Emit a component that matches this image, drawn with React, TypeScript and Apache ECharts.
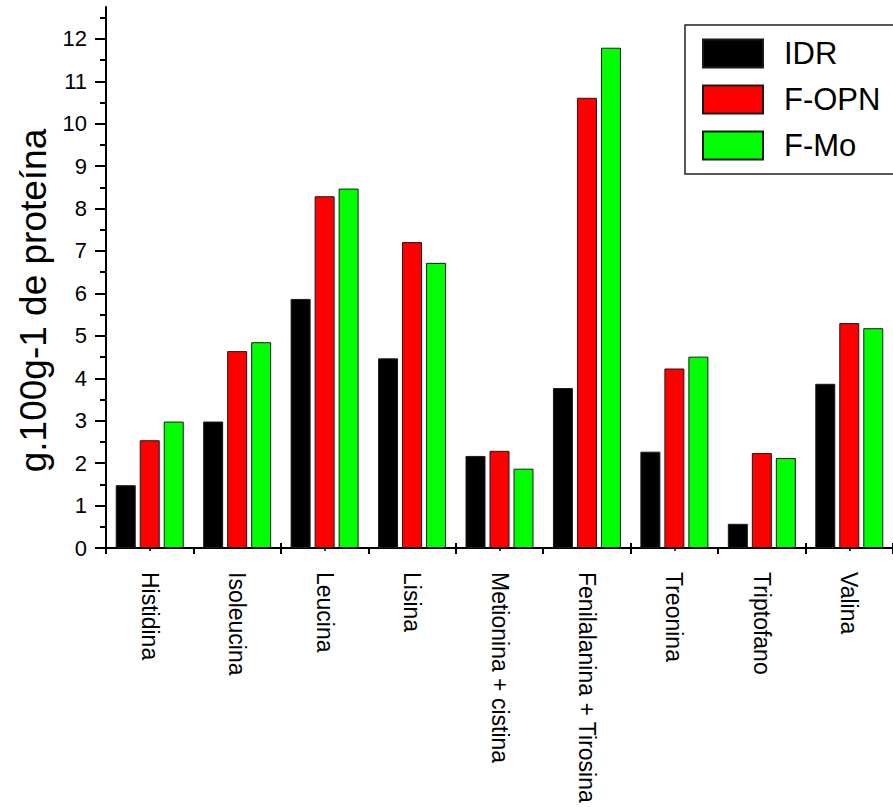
import React, { useEffect, useRef } from "react";
import * as echarts from "echarts";

const categories = [
  "Histidina",
  "Isoleucina",
  "Leucina",
  "Lisina",
  "Metionina + cistina",
  "Fenilalanina + Tirosina",
  "Treonina",
  "Triptofano",
  "Valina",
];
const seriesNames = ["IDR", "F-OPN", "F-Mo"];
const idr = [1.48, 2.98, 5.87, 4.47, 2.17, 3.77, 2.27, 0.57, 3.87];
const fOpn = [2.54, 4.64, 8.29, 7.21, 2.29, 10.61, 4.23, 2.24, 5.3];
const fMo = [2.98, 4.85, 8.47, 6.72, 1.87, 11.79, 4.51, 2.12, 5.18];
const yMajorTicks = [0, 1, 2, 3, 4, 5, 6, 7, 8, 9, 10, 11, 12];
const yMinorTicks = [0.5, 1.5, 2.5, 3.5, 4.5, 5.5, 6.5, 7.5, 8.5, 9.5, 10.5, 11.5, 12.5];
const yAxisName = "g.100g-1 de proteína";

const FONT = "'Liberation Sans', Arial, sans-serif";
const colors = ["#000000", "#ff0000", "#00ff00"];

export default function App() {
  const ref = useRef<HTMLDivElement>(null);
  useEffect(() => {
    document.body.style.margin = "0";
    const chart = echarts.init(ref.current!, null, { renderer: "svg" });
    const values = [idr, fOpn, fMo];
    const grid = { left: 106, right: -10, top: 7, bottom: 259, containLabel: false };
    const option: any = {
      animation: false,
      backgroundColor: "#ffffff",
      grid,
      legend: {
        left: 685,
        top: 25,
        orient: "vertical",
        itemWidth: 60,
        itemHeight: 28,
        itemGap: 15,
        padding: [13, 40, 13, 17],
        borderColor: "#222",
        borderWidth: 1.5,
        borderRadius: 0,
        icon: "rect",
        textStyle: {
          fontFamily: FONT,
          fontSize: 31,
          color: "#000",
          padding: [0, 0, 0, 16],
        },
        data: seriesNames,
      },
      xAxis: [
        {
          type: "category",
          data: categories,
          position: "bottom",
          boundaryGap: true,
          axisLine: { show: true, lineStyle: { color: "#000", width: 2 } },
          axisTick: { show: true, inside: false, length: 6, lineStyle: { color: "#000", width: 2 } },
          axisLabel: {
            rotate: -90,
            margin: 24,
            interval: 0,
            fontFamily: FONT,
            fontSize: 23,
            color: "#000",
          },
          splitLine: { show: false },
        },
        {
          type: "category",
          data: categories,
          position: "bottom",
          boundaryGap: true,
          axisLine: { show: false },
          axisTick: { show: true, inside: true, length: 5, lineStyle: { color: "#000", width: 2 } },
          axisLabel: { show: false },
          splitLine: { show: false },
        },
        {
          type: "category",
          data: categories,
          position: "bottom",
          boundaryGap: true,
          axisLine: { show: false },
          axisTick: {
            show: true,
            alignWithLabel: true,
            inside: false,
            length: 3,
            lineStyle: { color: "#000", width: 1.5 },
          },
          axisLabel: { show: false },
          splitLine: { show: false },
        },
      ],
      yAxis: [
        {
          type: "value",
          min: 0,
          max: 12.75,
          interval: 1,
          position: "left",
          name: yAxisName,
          nameLocation: "middle",
          nameRotate: 90,
          nameGap: 50,
          nameTextStyle: {
            fontFamily: FONT,
            fontSize: 37,
            color: "#000",
            padding: [0, 46, 0, 0],
          },
          axisLine: { show: true, lineStyle: { color: "#000", width: 2 } },
          axisTick: {
            show: true,
            inside: false,
            length: 11,
            customValues: yMajorTicks,
            lineStyle: { color: "#000", width: 2 },
          },
          axisLabel: {
            margin: 19,
            customValues: yMajorTicks,
            fontFamily: FONT,
            fontSize: 22,
            color: "#000",
            formatter: (v: number) => (Number.isInteger(v) ? String(v) : ""),
          },
          splitLine: { show: false },
        },
        {
          type: "value",
          min: 0,
          max: 12.75,
          interval: 0.5,
          position: "left",
          axisLine: { show: false },
          axisTick: {
            show: true,
            inside: false,
            length: 6,
            customValues: yMinorTicks,
            lineStyle: { color: "#000", width: 2 },
          },
          axisLabel: { show: false },
          splitLine: { show: false },
        },
      ],
      series: seriesNames.map((name, i) => ({
        name,
        type: "bar",
        xAxisIndex: 0,
        yAxisIndex: 0,
        data: values[i],
        barWidth: 20,
        barGap: "20%",
        itemStyle: { color: colors[i], borderColor: "#1a1a1a", borderWidth: 1 },
      })),
    };
    chart.setOption(option);
    return () => chart.dispose();
  }, []);
  return (
    <div
      ref={ref}
      style={{ position: "fixed", left: 0, top: 0, width: 893, height: 807, background: "#fff" }}
    />
  );
}
